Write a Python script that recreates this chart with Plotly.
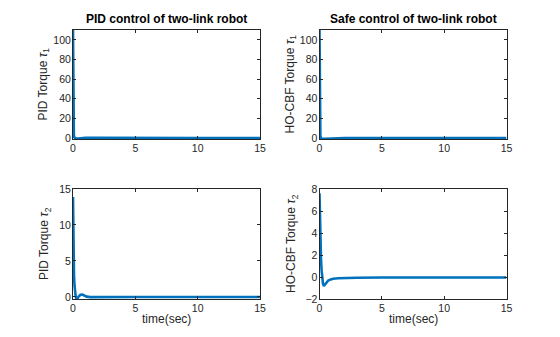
import plotly.graph_objects as go

# ---- data ----
t_tau1_pid = [0, 0.01, 0.02, 0.04, 0.07, 0.1, 0.2, 0.4, 0.7, 1.0, 2.0, 3.0, 5.0, 10.0, 15.0]
tau1_pid = [110, 75, 40, 12, 3, 0.8, -0.3, -0.5, -0.2, 0.1, 0.1, 0.0, 0.0, 0.0, 0.0]

t_tau1_cbf = [0, 0.01, 0.02, 0.04, 0.07, 0.1, 0.2, 0.4, 0.7, 1.0, 1.5, 2.0, 3.0, 5.0, 10.0, 15.0]
tau1_cbf = [110, 75, 40, 12, 3, 0.3, -0.8, -0.9, -0.6, -0.4, -0.2, -0.1, 0.0, 0.0, 0.0, 0.0]

t_tau2_pid = [0, 0.01, 0.03, 0.05, 0.08, 0.12, 0.17, 0.22, 0.28, 0.35, 0.45, 0.6, 0.75, 0.9, 1.1, 1.4, 2.0, 5.0, 10.0, 15.0]
tau2_pid = [13.9, 11.5, 7.5, 5.0, 3.0, 1.6, 0.6, 0.0, -0.28, -0.22, 0.05, 0.3, 0.32, 0.2, 0.05, -0.02, 0.0, 0.0, 0.0, 0.0]

t_tau2_cbf = [0, 0.01, 0.03, 0.05, 0.08, 0.12, 0.17, 0.22, 0.28, 0.35, 0.45, 0.55, 0.7, 0.9, 1.1, 1.5, 2.0, 3.0, 5.0, 10.0, 15.0]
tau2_cbf = [7.6, 6.8, 5.2, 4.0, 2.8, 1.6, 0.6, -0.1, -0.6, -0.82, -0.7, -0.5, -0.32, -0.22, -0.16, -0.12, -0.1, -0.07, -0.05, -0.05, -0.05]

titles = ["PID control of two-link robot", "Safe control of two-link robot"]
ylabels = ["PID Torque <i>τ</i><sub>1</sub>", "HO-CBF Torque <i>τ</i><sub>1</sub>",
           "PID Torque <i>τ</i><sub>2</sub>", "HO-CBF Torque <i>τ</i><sub>2</sub>"]
xlabel = "time(sec)"

blue = "#0072BD"
font = "Liberation Sans, Arial, sans-serif"
tickc = "#262626"

fig = go.Figure()
series = [(t_tau1_pid, tau1_pid), (t_tau1_cbf, tau1_cbf), (t_tau2_pid, tau2_pid), (t_tau2_cbf, tau2_cbf)]
for i, (t, v) in enumerate(series):
    sfx = "" if i == 0 else str(i + 1)
    fig.add_trace(go.Scatter(x=t, y=v, mode="lines", line=dict(color=blue, width=2.6),
                             xaxis="x" + sfx, yaxis="y" + sfx, showlegend=False))

W, H = 560, 337
xpx = [(73, 260), (319.5, 506.5)]
ypx = [(30, 139), (189, 299)]
xd = [(a / W, b / W) for a, b in xpx]
yd = [(1 - b / H, 1 - a / H) for a, b in ypx]
yranges = [[-1, 110], [-1, 110], [-0.28, 15], [-2, 8]]
ytickvals = [[0, 20, 40, 60, 80, 100], [0, 20, 40, 60, 80, 100], [0, 5, 10, 15], [-2, 0, 2, 4, 6, 8]]
ytitle_x = [44, 291, 45, 292]

axstyle = dict(showgrid=False, zeroline=False, showline=True, linecolor="#262626", linewidth=1,
               mirror="allticks", ticks="inside", ticklen=3, tickcolor="#262626", automargin=False,
               tickfont=dict(family=font, size=10.5, color=tickc))

layout = dict(width=W, height=H, margin=dict(l=0, r=0, t=0, b=0, autoexpand=False),
              plot_bgcolor="white", paper_bgcolor="white", font=dict(family=font))
for i in range(4):
    sfx = "" if i == 0 else str(i + 1)
    col, row = i % 2, i // 2
    layout["xaxis" + sfx] = dict(axstyle, domain=list(xd[col]), anchor="y" + sfx, range=[0, 15],
                                 tickvals=[0, 5, 10, 15], ticklabelstandoff=-1)
    layout["yaxis" + sfx] = dict(axstyle, domain=list(yd[row]), anchor="x" + sfx, range=yranges[i],
                                 tickvals=ytickvals[i], ticklabelstandoff=-1)

fig.update_layout(**layout)
for col in range(2):
    fig.add_annotation(text="<b>" + titles[col] + "</b>", xref="paper", yref="paper",
                       x=(xd[col][0] + xd[col][1]) / 2, xanchor="center",
                       y=1 - 19 / H, yanchor="middle",
                       showarrow=False, font=dict(family=font, size=12, color="#000000"))
    fig.add_annotation(text=xlabel, xref="paper", yref="paper",
                       x=(xd[col][0] + xd[col][1]) / 2, xanchor="center",
                       y=1 - 319 / H, yanchor="middle",
                       showarrow=False, font=dict(family=font, size=12, color=tickc))
for i in range(4):
    row = i // 2
    fig.add_annotation(text=ylabels[i], xref="paper", yref="paper", textangle=-90,
                       x=ytitle_x[i] / W, xanchor="center",
                       y=(yd[row][0] + yd[row][1]) / 2, yanchor="middle",
                       showarrow=False, font=dict(family=font, size=12, color=tickc))

fig.write_html("out.html")
